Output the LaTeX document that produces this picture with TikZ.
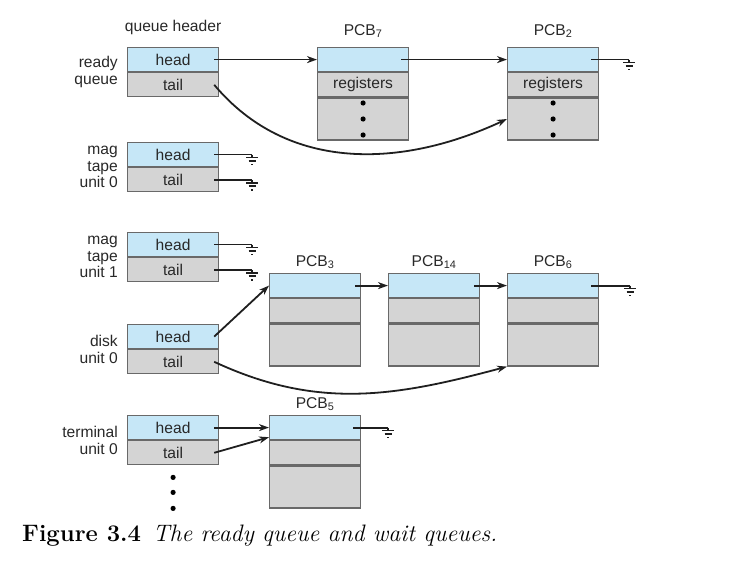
\documentclass[tikz,border=0pt]{standalone}
\usepackage{fontspec}
\newfontfamily\diagfont{Liberation Sans}
\usetikzlibrary{arrows.meta, positioning, calc}
\definecolor{pcbblue}{RGB}{198, 231, 247}
\definecolor{pcbgray}{RGB}{212, 212, 212}
\definecolor{edgegray}{RGB}{105, 105, 105}
\definecolor{inkgray}{RGB}{40, 40, 40}
\tikzset{
  cell/.style={draw=edgegray, line width=1.2pt, minimum width=91pt, inner sep=0pt, text=inkgray, font=\diagfont\fontsize{15.6}{16}\selectfont},
  linkrow/.style={cell, fill=pcbblue, minimum height=24pt},
  datarow/.style={cell, fill=pcbgray, minimum height=24pt},
  restrow/.style={cell, fill=pcbgray, minimum height=42pt},
  qname/.style={inner sep=0pt, align=right, text=inkgray, font=\diagfont\fontsize{15.6}{16.5}\selectfont},
  pcbtitle/.style={inner sep=0pt, text=inkgray, font=\diagfont\fontsize{15.6}{16}\selectfont},
  link/.style={draw=black!88, line width=1.8pt, -{Stealth[length=10pt, width=7pt]}},
  nilptr/.style={draw=black!88, line width=1.8pt},
  gnd/.pic={\draw[black!88, line width=1.7pt] (0,0) -- (0,-3) (-6,-3) -- (6,-3) (-3.5,-6.5) -- (3.5,-6.5) (-1,-10) -- (1,-10);}
}
\begin{document}
\begin{tikzpicture}[x=1pt, y=1pt]
  \useasboundingbox (0,0) rectangle (729,-567);

  % Queue headers
  \node[linkrow, anchor=north west] (rq-head) at (127,-47) {head};
  \node[datarow, below=0pt of rq-head] (rq-tail) {tail};
  \node[linkrow, anchor=north west] (m0-head) at (127,-142) {head};
  \node[datarow, below=0pt of m0-head] (m0-tail) {tail};
  \node[linkrow, anchor=north west] (m1-head) at (127,-232) {head};
  \node[datarow, below=0pt of m1-head] (m1-tail) {tail};
  \node[linkrow, anchor=north west] (dk-head) at (127,-324) {head};
  \node[datarow, below=0pt of dk-head] (dk-tail) {tail};
  \node[linkrow, anchor=north west] (tm-head) at (127,-415) {head};
  \node[datarow, below=0pt of tm-head] (tm-tail) {tail};

  \node[pcbtitle, above=12pt of rq-head.north] (qh-title) {queue header};

  % Queue names
  \node[qname, left=9pt of rq-head.south west] (rq-name) {ready\\queue};
  \node[qname, left=9pt of m0-head.south west] (m0-name) {mag\\tape\\unit 0};
  \node[qname, left=9pt of m1-head.south west] (m1-name) {mag\\tape\\unit 1};
  \node[qname, left=9pt of dk-head.south west] (dk-name) {disk\\unit 0};
  \node[qname, left=9pt of tm-head.south west] (tm-name) {terminal\\unit 0};

  % Process control blocks
  \node[linkrow, anchor=north west] (p7-link) at (317,-47) {};
  \node[datarow, below=0pt of p7-link] (p7-reg) {registers};
  \node[restrow, below=0pt of p7-reg] (p7-rest) {};
  \node[pcbtitle, above=9pt of p7-link] (p7-title) {PCB\textsubscript{7}};

  \node[linkrow, anchor=north west] (p2-link) at (507,-47) {};
  \node[datarow, below=0pt of p2-link] (p2-reg) {registers};
  \node[restrow, below=0pt of p2-reg] (p2-rest) {};
  \node[pcbtitle, above=9pt of p2-link] (p2-title) {PCB\textsubscript{2}};

  \node[linkrow, anchor=north west] (p3-link) at (269,-273) {};
  \node[datarow, below=0pt of p3-link] (p3-reg) {};
  \node[restrow, below=0pt of p3-reg] (p3-rest) {};
  \node[pcbtitle, above=4pt of p3-link] (p3-title) {PCB\textsubscript{3}};

  \node[linkrow, anchor=north west] (p14-link) at (388,-273) {};
  \node[datarow, below=0pt of p14-link] (p14-reg) {};
  \node[restrow, below=0pt of p14-reg] (p14-rest) {};
  \node[pcbtitle, above=4pt of p14-link] (p14-title) {PCB\textsubscript{14}};

  \node[linkrow, anchor=north west] (p6-link) at (507,-273) {};
  \node[datarow, below=0pt of p6-link] (p6-reg) {};
  \node[restrow, below=0pt of p6-reg] (p6-rest) {};
  \node[pcbtitle, above=4pt of p6-link] (p6-title) {PCB\textsubscript{6}};

  \node[linkrow, anchor=north west] (p5-link) at (269,-415) {};
  \node[datarow, below=0pt of p5-link] (p5-reg) {};
  \node[restrow, below=0pt of p5-reg] (p5-rest) {};
  \node[pcbtitle, above=4pt of p5-link] (p5-title) {PCB\textsubscript{5}};

  % Elided fields
  \fill[black] ($(p7-rest.center)+(0,16)$) circle (2.6pt) (p7-rest.center) circle (2.6pt) ($(p7-rest.center)+(0,-16)$) circle (2.6pt);
  \fill[black] ($(p2-rest.center)+(0,16)$) circle (2.6pt) (p2-rest.center) circle (2.6pt) ($(p2-rest.center)+(0,-16)$) circle (2.6pt);
  \fill[black] ($(tm-tail.south)+(0,-12)$) circle (2.6pt) ($(tm-tail.south)+(0,-27)$) circle (2.6pt) ($(tm-tail.south)+(0,-43)$) circle (2.6pt);

  % Null pointers
  \coordinate (m0-hgnd) at ($(m0-head.east)+(33,0)$);
  \coordinate (m0-tgnd) at ($(m0-tail.east)+(33,0)$);
  \coordinate (m1-hgnd) at ($(m1-head.east)+(33,0)$);
  \coordinate (m1-tgnd) at ($(m1-tail.east)+(33,0)$);
  \coordinate (p2-gnd) at ($(p2-link.east)+(30,0)$);
  \coordinate (p6-gnd) at ($(p6-link.east)+(31,0)$);
  \coordinate (p5-gnd) at ($(p5-link.east)+(27,0)$);
  \draw[nilptr] ($(m0-head.east)+(-5,0)$) -- (m0-hgnd) pic {gnd};
  \draw[nilptr] ($(m0-tail.east)+(-5,0)$) -- (m0-tgnd) pic {gnd};
  \draw[nilptr] ($(m1-head.east)+(-5,0)$) -- (m1-hgnd) pic {gnd};
  \draw[nilptr] ($(m1-tail.east)+(-5,0)$) -- (m1-tgnd) pic {gnd};
  \draw[nilptr] ($(p2-link.east)+(-8,0)$) -- (p2-gnd) pic {gnd};
  \draw[nilptr] ($(p6-link.east)+(-8,0)$) -- (p6-gnd) pic {gnd};
  \draw[nilptr] ($(p5-link.east)+(-8,0)$) -- (p5-gnd) pic {gnd};

  % Links
  \draw[link] ($(rq-head.east)+(-5,0)$) -- (p7-link.west);
  \draw[link] ($(p7-link.east)+(-8,0)$) -- (p2-link.west);
  \draw[link] ($(rq-tail.east)+(-5,0)$) to[out=-50, in=205] (p2-rest.west);
  \draw[link] ($(dk-head.east)+(-5,0)$) -- (p3-link.west);
  \draw[link] ($(p3-link.east)+(-6,0)$) -- (p14-link.west);
  \draw[link] ($(p14-link.east)+(-6,0)$) -- (p6-link.west);
  \draw[link] ($(dk-tail.east)+(-5,0)$) to[out=-25, in=195] (p6-rest.south west);
  \draw[link] ($(tm-head.east)+(-5,0)$) -- (p5-link.west);
  \draw[link] ($(tm-tail.east)+(-5,0)$) -- ($(p5-link.south west)+(0,3)$);

  % Caption
  \node[anchor=base west, inner sep=0pt, font=\fontsize{23.8}{28}\selectfont] (caption) at (22,-541) {\textbf{Figure 3.4}\hspace{0.5em}\textit{The ready queue and wait queues.}};
\end{tikzpicture}
\end{document}
